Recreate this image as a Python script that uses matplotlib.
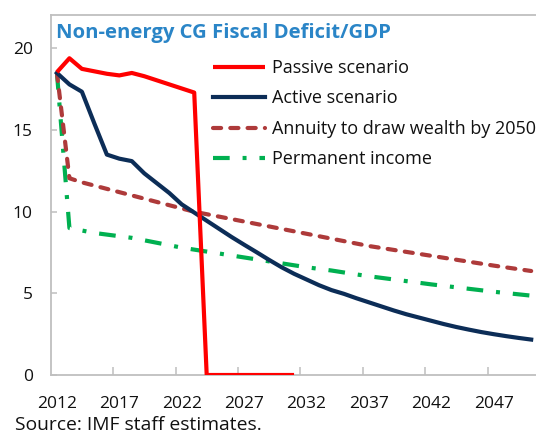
import matplotlib
matplotlib.use("Agg")
import matplotlib.pyplot as plt

plt.rcParams['font.family'] = ['Open Sans', 'DejaVu Sans']

years = list(range(2012, 2051))

passive = [18.55, 19.4, 18.75, 18.6, 18.45, 18.35, 18.5, 18.3, 18.05, 17.8, 17.55, 17.3,
           0, 0, 0, 0, 0, 0, 0, 0]
passive_years = years[:len(passive)]

active = [18.5, 17.8, 17.35, 15.4, 13.5, 13.25, 13.1, 12.35, 11.75, 11.15, 10.45, 9.95,
          9.45, 8.95, 8.45, 7.98, 7.52, 7.05, 6.6, 6.2, 5.85, 5.5, 5.2, 4.97, 4.7,
          4.45, 4.2, 3.95, 3.72, 3.52, 3.32, 3.12, 2.94, 2.78, 2.63, 2.5, 2.38, 2.27, 2.17]

annuity = [18.5, 12.05, 11.8, 11.6, 11.4, 11.2, 11.0, 10.8, 10.6, 10.4, 10.2, 10.0,
           9.85, 9.7, 9.55, 9.4, 9.25, 9.1, 8.95, 8.8, 8.65, 8.5, 8.35, 8.2, 8.05,
           7.9, 7.78, 7.66, 7.54, 7.42, 7.3, 7.18, 7.06, 6.94, 6.82, 6.7, 6.59, 6.48, 6.37]

permanent = [18.5, 9.0, 8.85, 8.7, 8.6, 8.5, 8.4, 8.25, 8.1, 7.95, 7.8, 7.68,
             7.56, 7.44, 7.32, 7.2, 7.08, 6.96, 6.84, 6.72, 6.6, 6.5, 6.4, 6.28, 6.16,
             6.05, 5.95, 5.85, 5.75, 5.65, 5.55, 5.46, 5.37, 5.28, 5.19, 5.1, 5.02, 4.94, 4.86]

labels = ["Passive scenario", "Active scenario",
          "Annuity to draw wealth by 2050", "Permanent income"]
xtick_years = [2012, 2017, 2022, 2027, 2032, 2037, 2042, 2047]
yticks = [0, 5, 10, 15, 20]

W, H = 536, 434
fig = plt.figure(figsize=(W / 100, H / 100), dpi=100)
left_px, top_px, bottom_px = 50.7, 15, 375
ax_w_px = 39 * 12.8
ax = fig.add_axes([left_px / W, (H - bottom_px) / H, ax_w_px / W, (bottom_px - top_px) / H])

lw = 3.0
ax.plot(passive_years, passive, color='#FF0000', lw=lw, solid_joinstyle='round',
        solid_capstyle='butt', label=labels[0], zorder=5)
ax.plot(years, active, color='#0C2D57', lw=lw, solid_joinstyle='round', label=labels[1], zorder=4)
ax.plot(years, annuity, color='#AE3A3A', lw=lw, dashes=(1.95, 2.2), dash_capstyle='round',
        label=labels[2], zorder=3)
ax.plot(years, permanent, color='#00B050', lw=lw, dashes=(4.0, 3.1, 0.95, 3.1),
        dash_capstyle='butt', label=labels[3], zorder=2)

ax.set_xlim(2011.5, 2050.5)
ax.set_ylim(0, 22.05)
ax.set_yticks(yticks)
ax.set_xticks(xtick_years)
ax.set_xticks([y - 0.5 for y in xtick_years[1:]] + [2051.5], minor=True)

for s in ['left', 'bottom', 'top', 'right']:
    ax.spines[s].set_color('#BFBFBF')
    ax.spines[s].set_linewidth(1.3)

ax.tick_params(axis='y', direction='in', length=4, width=1.1, color='#BFBFBF',
               labelsize=12.5, pad=13, labelcolor='#111111')
ax.tick_params(axis='x', which='major', length=0, labelsize=12.5, pad=15, labelcolor='#111111')
ax.tick_params(axis='x', which='minor', direction='in', length=6, width=1.1, color='#BFBFBF')

fig.text(56 / W, 1 - 33 / H, "Non-energy CG Fiscal Deficit/GDP", fontsize=14.6, fontweight='bold',
         color='#2A85C7', ha='left', va='center')

leg = ax.legend(loc='upper left', bbox_to_anchor=(213 / W, 1 - 59 / H),
                bbox_transform=fig.transFigure, frameon=False, fontsize=13,
                handlelength=2.9, handletextpad=0.38, labelspacing=0.69,
                borderpad=0, borderaxespad=0)
for t in leg.get_texts():
    t.set_color('#111111')

fig.text(15 / W, 1 - 425 / H, "Source: IMF staff estimates.", fontsize=13.9,
         color='#111111', ha='left', va='center')

fig.savefig("out.png", dpi=100)
